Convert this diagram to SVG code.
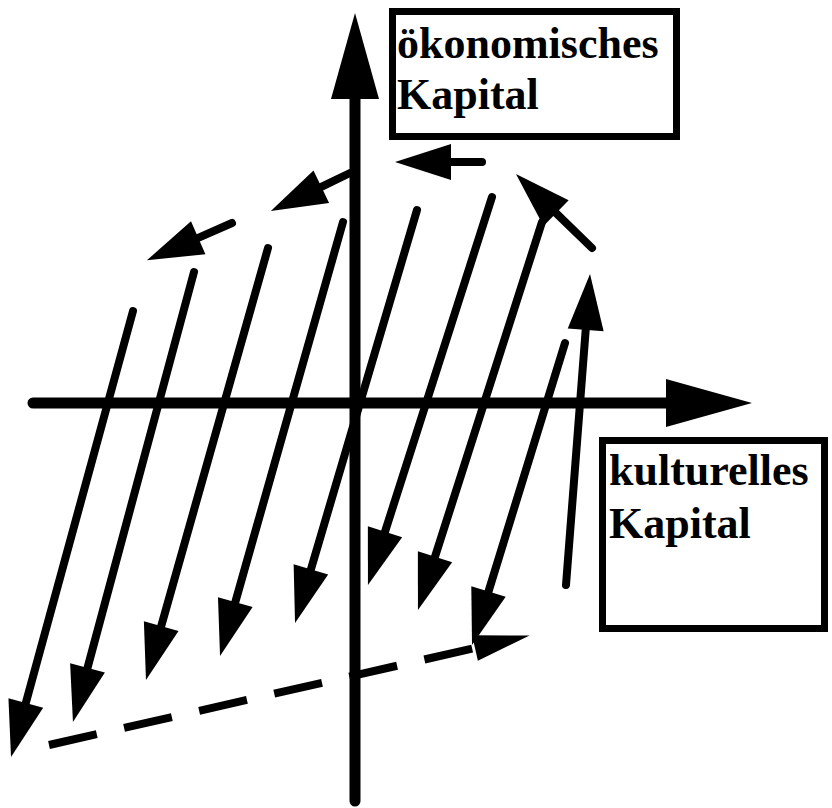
<svg xmlns="http://www.w3.org/2000/svg" width="832" height="808" viewBox="0 0 832 808">
<style>
.ln{stroke:#000;stroke-width:8;stroke-linecap:round;fill:none}
.ax{stroke:#000;stroke-width:11;stroke-linecap:round;fill:none}
.ds{stroke:#000;stroke-width:8;stroke-linecap:butt;fill:none;stroke-dasharray:49 28}
.box{fill:#fff;stroke:#000;stroke-width:7}
.lbl{font-family:"Liberation Serif","Times New Roman",serif;font-weight:bold;font-size:44px;fill:#000}
</style>
<defs>
<marker id="h" markerUnits="userSpaceOnUse" orient="auto" refX="0" refY="0" markerWidth="60" markerHeight="40" overflow="visible"><path d="M0,-18 L56,0 L0,18 z" fill="#000"/></marker>
<marker id="ha" markerUnits="userSpaceOnUse" orient="auto" refX="0" refY="0" markerWidth="90" markerHeight="50" overflow="visible"><path d="M0,-24 L86,0 L0,24 z" fill="#000"/></marker>
<marker id="hd" markerUnits="userSpaceOnUse" orient="auto" refX="0" refY="0" markerWidth="60" markerHeight="30" overflow="visible"><path d="M0,-13 L56,0 L0,13 z" fill="#000"/></marker>
</defs>
<g id="axes">
<line class="ax" x1="33" y1="403" x2="666" y2="403" marker-end="url(#ha)"/>
<line class="ax" x1="355" y1="801" x2="355" y2="99" marker-end="url(#ha)"/>
</g>
<g id="box-oekonomisch">
<rect class="box" x="392.5" y="11.5" width="284" height="125"/>
<text class="lbl" x="397" y="58">ökonomisches</text>
<text class="lbl" x="397" y="109">Kapital</text>
</g>
<g id="box-kulturell">
<rect class="box" x="602.5" y="440.5" width="222" height="188"/>
<text class="lbl" x="609" y="485">kulturelles</text>
<text class="lbl" x="609" y="538">Kapital</text>
</g>
<g id="connectors">
<line class="ln" x1="133" y1="311" x2="25.8" y2="703" marker-end="url(#h)"/>
<line class="ln" x1="194" y1="272" x2="87.5" y2="667.9" marker-end="url(#h)"/>
<line class="ln" x1="268" y1="248" x2="161.2" y2="626.1" marker-end="url(#h)"/>
<line class="ln" x1="343" y1="222" x2="235.3" y2="602.1" marker-end="url(#h)"/>
<line class="ln" x1="417" y1="210" x2="310.9" y2="569.3" marker-end="url(#h)"/>
<line class="ln" x1="492" y1="197" x2="385" y2="531.7" marker-end="url(#h)"/>
<line class="ln" x1="542" y1="222" x2="435" y2="556.7" marker-end="url(#h)"/>
<line class="ln" x1="565" y1="343" x2="488.5" y2="591.5" marker-end="url(#h)"/>
<line class="ln" x1="566" y1="585" x2="585.7" y2="329.8" marker-end="url(#h)"/>
<line class="ln" x1="592" y1="248" x2="556.1" y2="213.1" marker-end="url(#h)"/>
<line class="ln" x1="482" y1="162" x2="451" y2="162" marker-end="url(#h)"/>
<line class="ln" x1="350" y1="173" x2="321.3" y2="186.8" marker-end="url(#h)"/>
<line class="ln" x1="232" y1="223" x2="198.2" y2="237.8" marker-end="url(#h)"/>
<line class="ds" x1="49" y1="745" x2="475" y2="648" marker-end="url(#hd)"/>
</g>
</svg>
